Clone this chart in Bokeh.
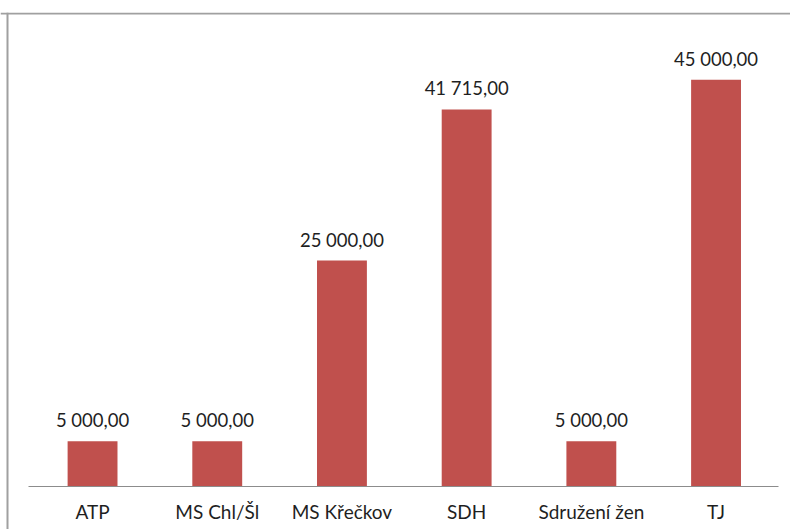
from bokeh.plotting import figure
from bokeh.models import Range1d, LinearAxis, FixedTicker, Span, ColumnDataSource
from bokeh.core.properties import value
from bokeh.embed import file_html
from bokeh.resources import INLINE

categories = ["ATP", "MS Chl/Šl", "MS Křečkov", "SDH", "Sdružení žen", "TJ"]
amounts = [5000.00, 5000.00, 25000.00, 41715.00, 5000.00, 45000.00]


def fmt(v):
    s = f"{v:,.2f}"
    return s.replace(",", " ").replace(".", ",")


labels = [fmt(v) for v in amounts]
xs = [i + 0.5 for i in range(len(categories))]

src = ColumnDataSource(dict(x=xs, top=amounts, label=labels))

W, H = 790, 529
kx = 124.7      # px per category
ky = 0.00904    # px per unit
x0 = 29.7       # left edge of first category band
base = 486      # baseline
top_px = 12
x_start = -x0 / kx
x_end = (W - x0) / kx
y_end = (base - top_px) / ky
y_start = -(H - base) / ky

p = figure(width=W, height=H, output_backend="svg", toolbar_location=None,
           x_axis_location=None, y_axis_location=None,
           x_range=Range1d(x_start, x_end), y_range=Range1d(y_start, y_end),
           min_border_left=0, min_border_right=0, min_border_top=top_px, min_border_bottom=0)
p.outline_line_color = None
p.grid.visible = False
p.background_fill_color = "white"
p.border_fill_color = "white"

p.vbar(x="x", top="top", bottom=0, width=0.4, source=src,
       fill_color="#C0504D", line_color=None)

p.text(x="x", y="top", text="label", source=src, text_align="center",
       text_baseline="alphabetic", y_offset=-21, text_font=value("Lato"),
       text_font_size="18.5px", text_color="#1f1f1f")

ax = LinearAxis(fixed_location=0)
ax.ticker = FixedTicker(ticks=xs)
ax.major_label_overrides = {x: c for x, c in zip(xs, categories)}
ax.bounds = (-0.01, len(categories))
ax.axis_line_color = "#8c8c8c"
ax.axis_line_width = 1
ax.major_tick_line_color = None
ax.minor_tick_line_color = None
ax.major_label_text_font = "Lato"
ax.major_label_text_font_size = "19px"
ax.major_label_text_color = "#1f1f1f"
ax.major_label_standoff = 7
p.add_layout(ax, "below")

p.add_layout(Span(location=x_start + 7 / kx, dimension="height",
                  line_color="#a0a0a0", line_width=2))
p.add_layout(Span(location=y_end - 1 / ky, dimension="width",
                  line_color="#a0a0a0", line_width=2))

open("out.html", "w").write(file_html(p, INLINE))
